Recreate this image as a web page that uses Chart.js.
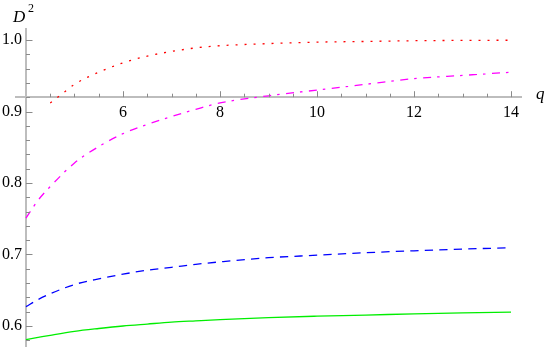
<!DOCTYPE html>
<html>
<head>
<meta charset="utf-8">
<script src="https://cdn.jsdelivr.net/npm/chart.js@4.4.1/dist/chart.umd.min.js"></script>
<style>
  body { margin: 0; background: #fff; }
  canvas { display: block; }
</style>
</head>
<body>
<canvas id="plot" width="545" height="347"></canvas>
<script>
// values
const qGrid = [4, 4.25, 4.5, 5, 5.5, 6, 6.5, 7, 7.5, 8, 9, 10, 11, 12, 13, 14];
const qRed = [4.5, 4.75, 5, 5.5, 6, 6.5, 7, 7.5, 8, 9, 10, 11, 12, 13, 14];

const redVals = [0.912, 0.925, 0.938, 0.955, 0.968, 0.9775, 0.984, 0.989, 0.992, 0.995, 0.997, 0.998, 0.999, 0.9995, 0.9997];
const magentaVals = [0.751, 0.776, 0.795, 0.828, 0.851, 0.869, 0.882, 0.893, 0.903, 0.912, 0.922, 0.930, 0.938, 0.946, 0.9505, 0.955];
const blueVals = [0.627, 0.637, 0.645, 0.658, 0.666, 0.6725, 0.678, 0.682, 0.6863, 0.6897, 0.6955, 0.699, 0.7025, 0.7052, 0.7075, 0.7095];
const greenVals = [0.581, 0.584, 0.587, 0.5925, 0.5965, 0.600, 0.6027, 0.6053, 0.6072, 0.609, 0.6118, 0.6137, 0.6152, 0.617, 0.6183, 0.6193];

const xTicks = [6, 8, 10, 12, 14];
const xMinorTicks = [4.5, 5, 5.5, 6.5, 7, 7.5, 8.5, 9, 9.5, 10.5, 11, 11.5, 12.5, 13, 13.5];
const yTicks = [0.6, 0.7, 0.8, 0.9, 1.0];
const yMinorTicks = [0.58, 0.62, 0.64, 0.66, 0.68, 0.72, 0.74, 0.76, 0.78, 0.82, 0.84, 0.86, 0.88, 0.92, 0.94, 0.96, 0.98];

const axisCrossX = 4;
const axisCrossY = 0.92;

const toPoints = (xs, ys) => ys.map((v, i) => ({ x: xs[i], y: v }));

const serif = "'Liberation Serif', serif";

// tick marks point inwards, plus the axis labels
const axisDecor = {
  id: 'axisDecor',
  afterDraw(chart) {
    const { ctx, scales: { x, y } } = chart;
    const x0 = x.getPixelForValue(axisCrossX);
    const y0 = y.getPixelForValue(axisCrossY);
    ctx.save();
    ctx.strokeStyle = '#8a8a8a';
    ctx.lineWidth = 1;
    const xMark = (v, len) => {
      const px = Math.round(x.getPixelForValue(v)) + 0.5;
      ctx.beginPath(); ctx.moveTo(px, y0); ctx.lineTo(px, y0 - len); ctx.stroke();
    };
    const yMark = (v, len) => {
      const py = Math.round(y.getPixelForValue(v)) + 0.5;
      ctx.beginPath(); ctx.moveTo(x0, py); ctx.lineTo(x0 + len, py); ctx.stroke();
    };
    xTicks.forEach(v => xMark(v, 6));
    xMinorTicks.forEach(v => xMark(v, 3.5));
    yTicks.forEach(v => yMark(v, 6.5));
    yMinorTicks.forEach(v => yMark(v, 4));

    ctx.fillStyle = '#000';
    ctx.textBaseline = 'alphabetic';
    ctx.textAlign = 'left';
    ctx.font = "italic 17px 'Liberation Serif'";
    ctx.fillText('D', 13, 22);
    ctx.font = "12px 'Liberation Serif'";
    ctx.fillText('2', 28, 12);
    ctx.font = "italic 17px 'Liberation Serif'";
    ctx.fillText('q', 536, 99);
    ctx.restore();
  }
};

const line = (label, pts, color, dash) => ({
  label,
  data: pts,
  borderColor: color,
  borderWidth: 1.3,
  borderDash: dash,
  pointRadius: 0,
  fill: false,
  cubicInterpolationMode: 'monotone'
});

// label padding would otherwise shrink the plot area
const noPad = s => { s.paddingTop = 0; s.paddingBottom = 0; s.paddingLeft = 0; s.paddingRight = 0; };

new Chart(document.getElementById('plot'), {
  type: 'line',
  data: {
    datasets: [
      line('red', toPoints(qRed, redVals), '#ff0000', [2, 7]),
      line('magenta', toPoints(qGrid, magentaVals), '#ff00ff', [8, 6, 2.5, 6.5]),
      line('blue', toPoints(qGrid, blueVals), '#0000ff', [8.3, 6.2]),
      line('green', toPoints(qGrid, greenVals), '#00ee00', [])
    ]
  },
  options: {
    responsive: false,
    animation: false,
    layout: { padding: { left: 16, right: 23.3, top: 29.3, bottom: 0 } },
    plugins: { legend: { display: false }, tooltip: { enabled: false } },
    scales: {
      x: {
        type: 'linear',
        min: 3.794,
        max: 14.22,
        position: { y: axisCrossY },
        grid: { display: false },
        border: { display: true, color: '#bdbdbd', width: 2 },
        afterBuildTicks: s => { s.ticks = xTicks.map(v => ({ value: v })); },
        afterFit: noPad,
        ticks: {
          color: '#000',
          padding: -2,
          maxRotation: 0,
          font: { family: serif, size: 16 },
          callback: v => String(v)
        }
      },
      y: {
        type: 'linear',
        min: 0.5706,
        max: 1.015,
        position: { x: axisCrossX },
        grid: { display: false },
        border: { display: true, color: '#bdbdbd', width: 2 },
        afterBuildTicks: s => { s.ticks = yTicks.map(v => ({ value: v })); },
        afterFit: noPad,
        ticks: {
          color: '#000',
          padding: 4,
          font: { family: serif, size: 16 },
          callback: v => v.toFixed(1) + ' '
        }
      }
    }
  },
  plugins: [axisDecor]
});
</script>
</body>
</html>
